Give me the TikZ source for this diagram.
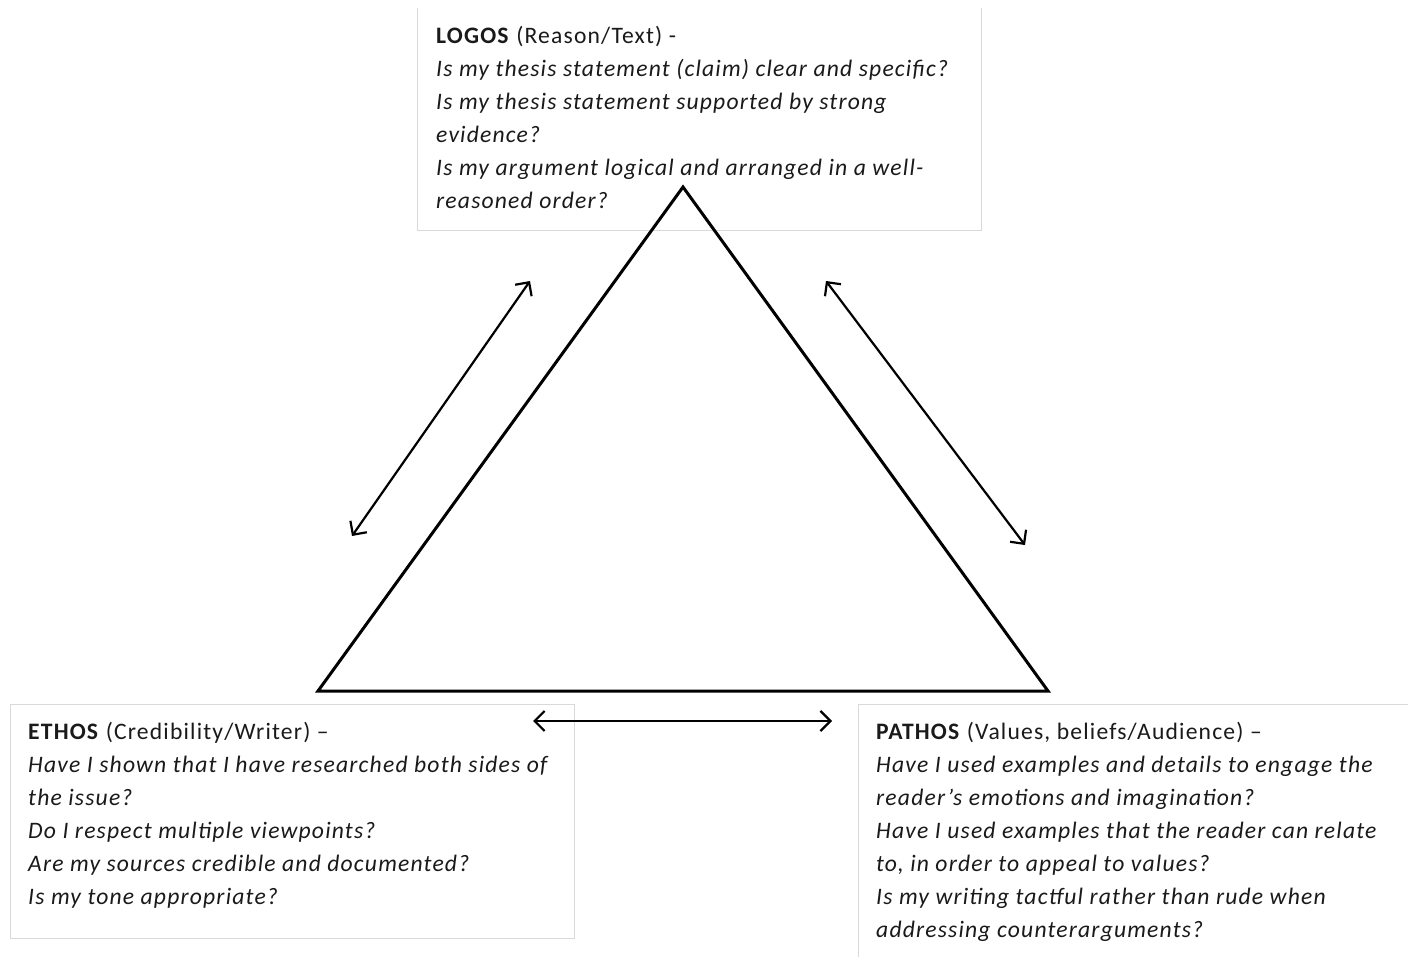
\documentclass[tikz,border=0pt]{standalone}
\usepackage{fontspec}
\setmainfont[LetterSpace=5]{Carlito}
\usetikzlibrary{arrows.meta}
\definecolor{boxgray}{HTML}{D9D9D9}
\definecolor{txt}{HTML}{1A1A1A}
\tikzset{
  boxtext/.style={anchor=north west, inner sep=0pt, align=left, text=txt,
    font=\fontsize{23.6}{33}\selectfont},
  boxedge/.style={draw=boxgray, line width=1pt},
  tri/.style={line width=3pt, line join=miter},
  dbl/.style={line width=2.2pt, {Straight Barb[length=10pt,width=20pt,line width=2.2pt]}-{Straight Barb[length=10pt,width=20pt,line width=2.2pt]}}
}
\begin{document}
\begin{tikzpicture}[x=1pt,y=-1pt]
\useasboundingbox[fill=white] (0,0) rectangle (1408,957);
% boxes
\coordinate (lnw) at (417,8); \coordinate (lse) at (981,231);
\draw[boxedge] (lnw) |- (lse) -- (lse |- lnw);
\coordinate (enw) at (10,704); \coordinate (ese) at (574,938);
\draw[boxedge] (enw) rectangle (ese);
\coordinate (pnw) at (858,704);
\draw[boxedge] (858,960) -- (pnw) -- (1410,704);
% texts
\node[boxtext] (logos) at (436,26) {\textbf{LOGOS} (Reason/Text) -\\
\textit{Is my thesis statement (claim) clear and specific?}\\
\textit{Is my thesis statement supported by strong}\\
\textit{evidence?}\\
\textit{Is my argument logical and arranged in a well-}\\
\textit{reasoned order?}};
\node[boxtext] (ethos) at (28,722) {\textbf{ETHOS} (Credibility/Writer) --\\
\textit{Have I shown that I have researched both sides of}\\
\textit{the issue?}\\
\textit{Do I respect multiple viewpoints?}\\
\textit{Are my sources credible and documented?}\\
\textit{Is my tone appropriate?}};
\node[boxtext] (pathos) at (876,722) {\textbf{PATHOS} (Values, beliefs/Audience) --\\
\textit{Have I used examples and details to engage the}\\
\textit{reader’s emotions and imagination?}\\
\textit{Have I used examples that the reader can relate}\\
\textit{to, in order to appeal to values?}\\
\textit{Is my writing tactful rather than rude when}\\
\textit{addressing counterarguments?}};
% triangle
\coordinate (top) at (683,187);
\coordinate (bl) at (318,691);
\coordinate (br) at (1048,691);
\draw[tri] (top) -- (bl) -- (br) -- cycle;
% arrows
\coordinate (a1) at (530,281); \coordinate (a2) at (352,536);
\coordinate (b1) at (826,281); \coordinate (b2) at (1025,545);
\coordinate (c1) at (533,721); \coordinate (c2) at (832,721);
\draw[dbl] (a1) -- (a2);
\draw[dbl] (b1) -- (b2);
\draw[dbl] (c1) -- (c2);
\end{tikzpicture}
\end{document}
